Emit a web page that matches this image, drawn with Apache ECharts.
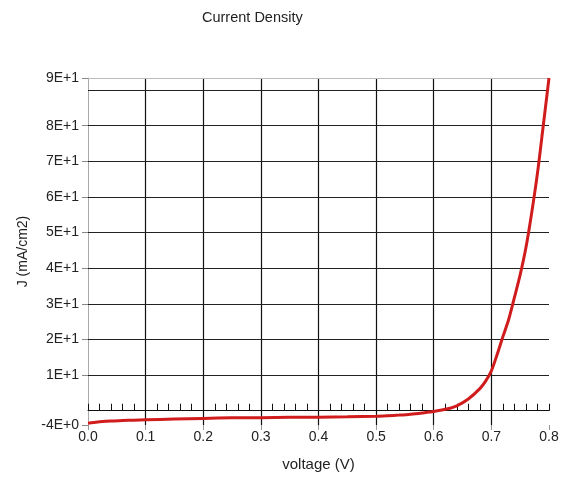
<!DOCTYPE html>
<html>
<head>
<meta charset="utf-8">
<script src="https://cdn.jsdelivr.net/npm/echarts@6/dist/echarts.min.js"></script>
<style>
  html, body { margin: 0; padding: 0; background: #fff; }
  #chart { width: 562px; height: 480px; }
</style>
</head>
<body>
<div id="chart"></div>
<script>
// J–V curve of the cell
const voltage = [0, 0.01, 0.02, 0.04, 0.06, 0.08, 0.10, 0.15, 0.20, 0.25, 0.30, 0.35, 0.40, 0.45,
  0.50, 0.52, 0.54, 0.56, 0.58, 0.60, 0.62, 0.64, 0.66, 0.68, 0.69, 0.70, 0.71, 0.72, 0.73,
  0.74, 0.75, 0.76, 0.77, 0.78, 0.79, 0.80];
const current = [-3.5, -3.3, -3.1, -2.85, -2.75, -2.65, -2.55, -2.35, -2.15, -2.0, -1.95, -1.85, -1.8, -1.7,
  -1.55, -1.4, -1.2, -0.95, -0.6, -0.2, 0.4, 1.4, 3.3, 6.2, 8.3, 11.2, 15.8, 20.8, 25.6, 31.8,
  38.2, 45.8, 55.6, 66.7, 80, 93.4];

// Axis ranges and labelled ticks
const xMin = 0, xMax = 0.8, xStep = 0.1;
const yMin = -4, yMax = 93.4;
const yLabelValues = [-4, 10, 20, 30, 40, 50, 60, 70, 80, 93.4];
const yGridValues = [10, 20, 30, 40, 50, 60, 70, 80, 90];

const points = voltage.map((v, i) => [v, current[i]]);
const fontFamily = '"Liberation Sans", Arial, sans-serif';
const sci = v => v.toExponential(0).replace('e', 'E');

const chart = echarts.init(document.getElementById('chart'), null, { renderer: 'canvas' });
chart.setOption({
  animation: false,
  backgroundColor: '#fff',
  title: {
    text: 'Current Density',
    left: 197, top: 5,
    textStyle: { fontFamily, fontSize: 14.5, fontWeight: 'normal', color: '#222' }
  },
  grid: { left: 88, right: 13, top: 78, bottom: 55 },
  xAxis: [
    {
      type: 'value', min: xMin, max: xMax, interval: xStep,
      position: 'bottom',
      name: 'voltage (V)', nameLocation: 'middle', nameGap: 32,
      nameTextStyle: { fontFamily, fontSize: 15, color: '#222' },
      axisLine: { show: false, onZero: false },
      axisTick: { show: true, length: 5, lineStyle: { color: '#999' } },
      axisLabel: { fontFamily, fontSize: 14, color: '#222', margin: 5,
        formatter: v => v.toFixed(1) },
      splitLine: { show: true, showMinLine: false, showMaxLine: false,
        lineStyle: { color: '#111', width: 1.2 } }
    },
    {
      // zero line with small upward ticks
      type: 'value', min: xMin, max: xMax, interval: xStep,
      position: 'top',
      axisLine: { show: true, onZero: true, lineStyle: { color: '#111', width: 1 } },
      axisTick: { show: true, length: 7, lineStyle: { color: '#111' } },
      minorTick: { show: true, splitNumber: 5, length: 7, lineStyle: { color: '#111' } },
      axisLabel: { show: false },
      splitLine: { show: false }
    }
  ],
  yAxis: {
    type: 'value', min: yMin, max: yMax,
    name: 'J (mA/cm2)', nameLocation: 'middle', nameGap: 55,
    nameTextStyle: { fontFamily, fontSize: 14, color: '#222' },
    axisLine: { show: true, onZero: false, lineStyle: { color: '#aaa', width: 1 } },
    axisTick: { show: true, length: 6, customValues: yLabelValues, lineStyle: { color: '#888' } },
    axisLabel: { fontFamily, fontSize: 14, color: '#222', margin: 9,
      customValues: yLabelValues, formatter: v => sci(v) },
    splitLine: { show: false }
  },
  series: [
    {
      type: 'line',
      xAxisIndex: 0, yAxisIndex: 0,
      data: points,
      showSymbol: false,
      smooth: 0.3,
      lineStyle: { color: '#d01c1c', width: 3 },
      z: 5,
      markLine: {
        silent: true, symbol: 'none', label: { show: false },
        lineStyle: { color: '#222', width: 1, type: 'solid' },
        data: yGridValues.map(v => ({ yAxis: v }))
          .concat([{ yAxis: yMax, lineStyle: { color: '#bbb', width: 1, type: 'solid' } }])
      }
    }
  ]
});
</script>
</body>
</html>
